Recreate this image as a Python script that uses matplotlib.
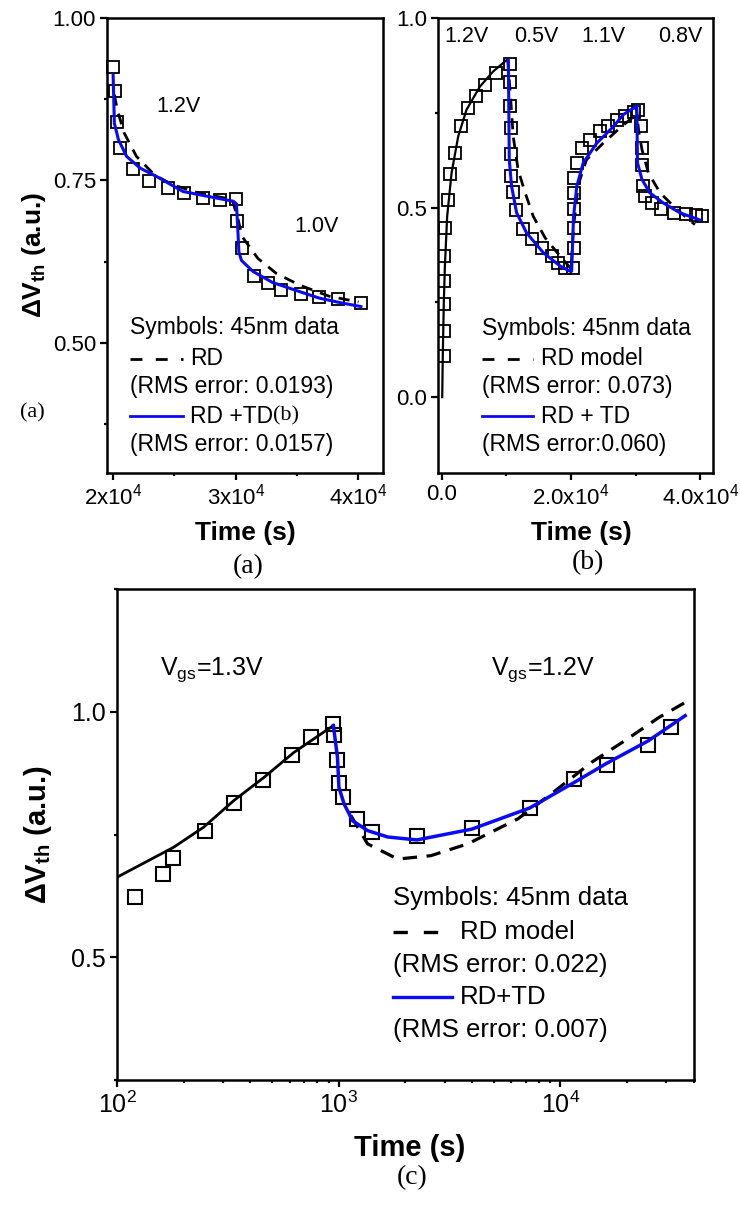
import numpy as np
import matplotlib
matplotlib.use('Agg')
import matplotlib.pyplot as plt
from matplotlib.ticker import FixedLocator, LogLocator, NullFormatter

plt.rcParams['font.family'] = ['Liberation Sans', 'DejaVu Sans']
plt.rcParams['mathtext.fontset'] = 'custom'
plt.rcParams['mathtext.rm'] = 'Liberation Sans'
plt.rcParams['mathtext.it'] = 'Liberation Sans:italic'
plt.rcParams['mathtext.bf'] = 'Liberation Sans:bold'

# ---------------- panel (a) data ----------------
a_t = [2.00e4, 2.016e4, 2.035e4, 2.057e4, 2.16e4, 2.29e4, 2.445e4, 2.58e4, 2.73e4, 2.87e4,
       3.00e4, 3.01e4, 3.05e4, 3.15e4, 3.26e4, 3.37e4, 3.53e4, 3.68e4, 3.83e4, 4.02e4]
a_dv = [0.924, 0.888, 0.840, 0.800, 0.767, 0.749, 0.738, 0.731, 0.723, 0.720,
        0.721, 0.688, 0.646, 0.603, 0.593, 0.582, 0.576, 0.571, 0.568, 0.562]
a_rd_t = [2.01e4, 2.035e4, 2.09e4, 2.19e4, 2.34e4, 2.49e4, 2.71e4, 2.97e4,
          3.02e4, 3.05e4, 3.18e4, 3.33e4, 3.52e4, 3.76e4, 4.0e4]
a_rd_dv = [0.882, 0.858, 0.823, 0.787, 0.758, 0.743, 0.730, 0.721,
           0.689, 0.664, 0.630, 0.607, 0.589, 0.572, 0.563]
a_td_t = [2.00e4, 2.01e4, 2.043e4, 2.11e4, 2.22e4, 2.355e4, 2.57e4, 2.84e4, 2.98e4,
          3.005e4, 3.015e4, 3.025e4, 3.046e4, 3.14e4, 3.30e4, 3.52e4, 3.68e4, 3.85e4, 4.02e4]
a_td_dv = [0.912, 0.838, 0.813, 0.787, 0.769, 0.756, 0.733, 0.723, 0.718,
           0.714, 0.680, 0.640, 0.627, 0.610, 0.593, 0.579, 0.569, 0.562, 0.556]

# ---------------- panel (b) data ----------------
b_t = [280, 290, 300, 320, 350, 420, 980, 1240, 2015, 2950, 4080, 5270, 6670, 8370, 10600,
       10600, 10600, 10650, 10650, 10650, 11050, 11470, 12600, 13900, 15460, 17000, 18000, 19070, 20360,
       20400, 20400, 20400, 20400, 20500, 20900, 21660, 22950, 24500, 25800, 27100, 28400, 29700, 30400,
       30900, 31000, 31050, 31100, 31400, 32500, 34000, 35900, 37800, 39300, 40300]
b_dv = [0.109, 0.174, 0.245, 0.306, 0.372, 0.447, 0.521, 0.589, 0.644, 0.714, 0.762, 0.795, 0.824, 0.856, 0.879,
        0.832, 0.767, 0.711, 0.642, 0.582, 0.540, 0.493, 0.444, 0.416, 0.394, 0.372, 0.354, 0.341, 0.341,
        0.394, 0.447, 0.495, 0.539, 0.578, 0.618, 0.657, 0.679, 0.701, 0.714, 0.732, 0.742, 0.753, 0.758,
        0.714, 0.657, 0.613, 0.556, 0.530, 0.512, 0.495, 0.486, 0.482, 0.480, 0.479]
b_st_t = [50, 150, 300, 465, 820, 1500, 2530, 3820, 5890, 7950, 10030]
b_st_dv = [0.0, 0.12, 0.25, 0.345, 0.477, 0.591, 0.688, 0.758, 0.819, 0.859, 0.889]
b_rd_t = [10200, 10600, 11050, 11800, 12900, 14150, 16000, 18300, 19900,
          20000, 20400, 21000, 21400, 22400, 25000, 27600, 29700, 30100,
          30500, 31000, 32000, 33800, 36400, 39200]
b_rd_dv = [0.889, 0.800, 0.688, 0.600, 0.539, 0.477, 0.420, 0.372, 0.341,
           0.335, 0.450, 0.540, 0.574, 0.626, 0.670, 0.710, 0.740, 0.765,
           0.700, 0.653, 0.591, 0.539, 0.495, 0.455]
b_td_t = [10300, 10440, 10800, 11580, 13130, 15710, 18300, 19850,
          20100, 20400, 20900, 21900, 24000, 26600, 28100, 30200,
          30300, 31000, 32200, 34300, 36900, 40000]
b_td_dv = [0.889, 0.626, 0.556, 0.486, 0.433, 0.381, 0.346, 0.332,
           0.332, 0.477, 0.556, 0.618, 0.670, 0.714, 0.745, 0.768,
           0.618, 0.574, 0.539, 0.512, 0.486, 0.467]
b_volts = ['1.2V', '0.5V', '1.1V', '0.8V']

# ---------------- panel (c) data ----------------
c_t = [120, 162, 179, 250, 336, 456, 617, 752, 946, 952, 980, 1002, 1049, 1205, 1419,
       2254, 3985, 7260, 11530, 16150, 24930, 31560]
c_dv = [0.623, 0.669, 0.702, 0.758, 0.814, 0.862, 0.912, 0.948, 0.976, 0.953, 0.902, 0.855, 0.827, 0.782, 0.755,
        0.746, 0.763, 0.803, 0.863, 0.892, 0.933, 0.968]
c_st_t = [100, 180, 246, 336, 459, 627, 946]
c_st_dv = [0.663, 0.724, 0.765, 0.819, 0.866, 0.917, 0.972]
c_rd_t = [1133, 1349, 1845, 2606, 3820, 6430, 9100, 13800, 19500, 27700, 36500]
c_rd_dv = [0.789, 0.731, 0.700, 0.707, 0.731, 0.782, 0.833, 0.897, 0.941, 0.988, 1.019]
c_td_t = [946, 987, 1002, 1058, 1155, 1349, 1661, 2254, 3985, 7260, 11530, 16150, 24930, 36500]
c_td_dv = [0.972, 0.907, 0.846, 0.812, 0.778, 0.758, 0.745, 0.739, 0.761, 0.804, 0.856, 0.895, 0.941, 0.992]

BLUE = '#0a0af5'

fig = plt.figure(figsize=(7.4, 12.05), dpi=100)
axa = fig.add_axes([0.1446, 0.6075, 0.373, 0.3776])
axb = fig.add_axes([0.5919, 0.6075, 0.3716, 0.3776])
axc = fig.add_axes([0.1581, 0.1037, 0.7797, 0.4075])


def style(ax, fs):
    for s in ax.spines.values():
        s.set_linewidth(1.8)
    ax.tick_params(which='major', direction='out', length=5, width=1.6, labelsize=fs, pad=3,
                   top=False, right=False)
    ax.tick_params(which='minor', direction='out', length=2.5, width=1.6, top=False, right=False)


def key_rows(ax, x0, x1, xt, ys, texts, fs, lw):
    ax.text(x0, ys[0], texts[0], transform=ax.transAxes, fontsize=fs, va='center')
    ax.plot([x0, x1], [ys[1], ys[1]], transform=ax.transAxes, color='black', lw=lw,
            ls=(0, (4.3, 4.8)), clip_on=False)
    ax.text(xt, ys[1], texts[1], transform=ax.transAxes, fontsize=fs, va='center')
    ax.text(x0, ys[2], texts[2], transform=ax.transAxes, fontsize=fs, va='center')
    ax.plot([x0, x1], [ys[3], ys[3]], transform=ax.transAxes, color=BLUE, lw=lw, clip_on=False)
    ax.text(xt, ys[3], texts[3], transform=ax.transAxes, fontsize=fs, va='center')
    ax.text(x0, ys[4], texts[4], transform=ax.transAxes, fontsize=fs, va='center')


# ---- (a)
ax = axa
ax.plot(a_t, a_dv, 's', mfc='none', mec='black', ms=8, mew=1.3, clip_on=False)
ax.plot(a_rd_t, a_rd_dv, color='black', lw=2, ls=(0, (4, 3)))
ax.plot(a_td_t, a_td_dv, color=BLUE, lw=2.2)
ax.set_xlim(1.95e4, 4.2e4)
ax.set_ylim(0.3, 1.0)
ax.xaxis.set_major_locator(FixedLocator([2e4, 3e4, 4e4]))
ax.set_xticklabels([r'2x10$^4$', r'3x10$^4$', r'4x10$^4$'])
ax.xaxis.set_minor_locator(FixedLocator([2.5e4, 3.5e4]))
ax.yaxis.set_major_locator(FixedLocator([0.5, 0.75, 1.0]))
ax.set_yticklabels(['0.50', '0.75', '1.00'])
ax.yaxis.set_minor_locator(FixedLocator([0.375, 0.625, 0.875]))
style(ax, 16)
ax.text(0.258, 0.805, '1.2V', transform=ax.transAxes, fontsize=15.5, ha='center', va='center')
ax.text(0.761, 0.541, '1.0V', transform=ax.transAxes, fontsize=15.5, ha='center', va='center')
key_rows(ax, 0.083, 0.275, 0.301, [0.319, 0.2505, 0.189, 0.125, 0.0615],
         ['Symbols: 45nm data', 'RD', '(RMS error: 0.0193)', 'RD +TD', '(RMS error: 0.0157)'], 16.5, 2)
ax.set_xlabel('Time (s)', fontsize=19, fontweight='bold')
ax.xaxis.set_label_coords(0.5, -0.106)
ax.set_ylabel('ΔV$_{\\mathbf{th}}$ (a.u.)', fontsize=19, fontweight='bold')
ax.yaxis.set_label_coords(-0.215, 0.48)

# ---- (b)
ax = axb
ax.plot(b_t, b_dv, 's', mfc='none', mec='black', ms=8, mew=1.3)
ax.plot(b_st_t, b_st_dv, color='black', lw=1.6)
ax.plot(b_rd_t, b_rd_dv, color='black', lw=2, ls=(0, (4, 3)))
ax.plot(b_td_t, b_td_dv, color=BLUE, lw=2.2)
ax.set_xlim(-600, 4.2e4)
ax.set_ylim(-0.2, 1.0)
ax.xaxis.set_major_locator(FixedLocator([0, 2e4, 4e4]))
ax.set_xticklabels(['0.0', r'2.0x10$^4$', r'4.0x10$^4$'])
ax.xaxis.set_minor_locator(FixedLocator([1e4, 3e4]))
ax.yaxis.set_major_locator(FixedLocator([0.0, 0.5, 1.0]))
ax.set_yticklabels(['0.0', '0.5', '1.0'])
ax.yaxis.set_minor_locator(FixedLocator([0.25, 0.75]))
style(ax, 16)
for xv, lab in zip([0.104, 0.358, 0.601, 0.880], b_volts):
    ax.text(xv, 0.959, lab, transform=ax.transAxes, fontsize=15.5, ha='center', va='center')
key_rows(ax, 0.159, 0.345, 0.373, [0.317, 0.2505, 0.189, 0.125, 0.0615],
         ['Symbols: 45nm data', 'RD model', '(RMS error: 0.073)', 'RD + TD', '(RMS error:0.060)'], 16.5, 2)
ax.set_xlabel('Time (s)', fontsize=19, fontweight='bold')
ax.xaxis.set_label_coords(0.52, -0.106)

# ---- (c)
ax = axc
ax.plot(c_t, c_dv, 's', mfc='none', mec='black', ms=9.5, mew=1.5)
ax.plot(c_st_t, c_st_dv, color='black', lw=2)
ax.plot(c_rd_t, c_rd_dv, color='black', lw=2.3, ls=(0, (4.5, 3)))
ax.plot(c_td_t, c_td_dv, color=BLUE, lw=2.5)
ax.set_xscale('log')
ax.set_xlim(100, 4e4)
ax.set_ylim(0.25, 1.25)
ax.xaxis.set_major_locator(LogLocator(base=10, numticks=10))
ax.xaxis.set_minor_locator(LogLocator(base=10, subs=np.arange(2, 10), numticks=20))
ax.xaxis.set_minor_formatter(NullFormatter())
ax.yaxis.set_major_locator(FixedLocator([0.5, 1.0]))
ax.set_yticklabels(['0.5', '1.0'])
ax.yaxis.set_minor_locator(FixedLocator([0.25, 0.75, 1.25]))
style(ax, 18)
ax.text(0.075, 0.835, 'V$_{\\rm gs}$=1.3V', transform=ax.transAxes, fontsize=18, va='center')
ax.text(0.649, 0.835, 'V$_{\\rm gs}$=1.2V', transform=ax.transAxes, fontsize=18, va='center')
key_rows(ax, 0.479, 0.580, 0.594, [0.370, 0.302, 0.234, 0.170, 0.102],
         ['Symbols: 45nm data', 'RD model', '(RMS error: 0.022)', 'RD+TD', '(RMS error: 0.007)'], 18.5, 2.4)
ax.set_xlabel('Time (s)', fontsize=21, fontweight='bold')
ax.xaxis.set_label_coords(0.508, -0.11)
ax.set_ylabel('ΔV$_{\\mathbf{th}}$ (a.u.)', fontsize=21, fontweight='bold')
ax.yaxis.set_label_coords(-0.11, 0.5)

# captions (serif)
serif = ['Liberation Serif', 'DejaVu Serif']
fig.text(248 / 740, 1 - 567 / 1205, '(a)', family=serif, fontsize=20, ha='center', va='center')
fig.text(588 / 740, 1 - 563 / 1205, '(b)', family=serif, fontsize=20, ha='center', va='center')
fig.text(412 / 740, 1 - 1178 / 1205, '(c)', family=serif, fontsize=20, ha='center', va='center')
fig.text(32 / 740, 1 - 413 / 1205, '(a)', family=serif, fontsize=16, ha='center', va='center')
fig.text(286 / 740, 1 - 416 / 1205, '(b)', family=serif, fontsize=16, ha='center', va='center')

fig.savefig('out.png', dpi=100)
